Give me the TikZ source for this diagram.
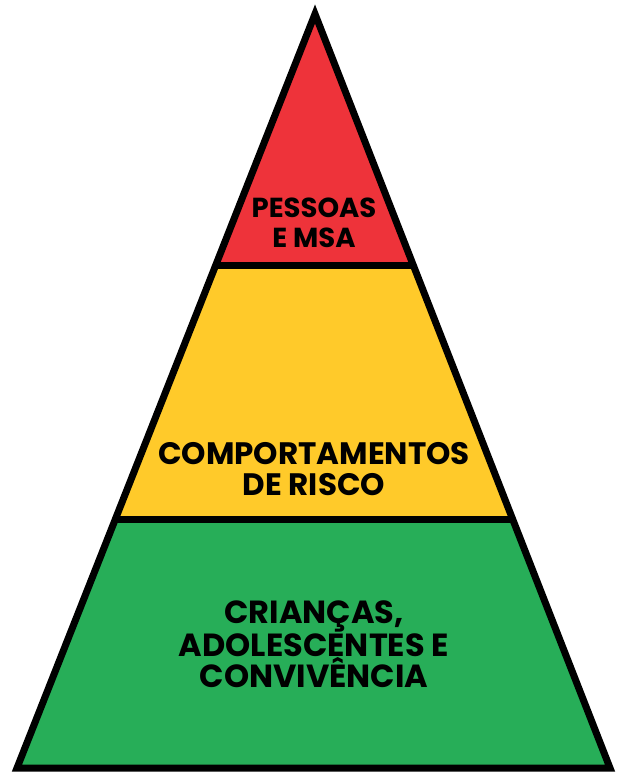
\documentclass[tikz,border=0pt]{standalone}
\usepackage{fontspec}
\setmainfont{Poppins}
\usetikzlibrary{calc}
\definecolor{levelred}{HTML}{EE333A}
\definecolor{levelyellow}{HTML}{FFCA2A}
\definecolor{levelgreen}{HTML}{27AE58}
\tikzset{
	levelborder/.style={line width=7pt, line join=miter, miter limit=20},
	leveltext/.style={align=center, font=\bfseries\fontsize{31}{30.5}\selectfont, text=black}
}

\begin{document}
\begin{tikzpicture}[x=1pt,y=-1pt]
			%%%%% START %%%%%
			\useasboundingbox (0,0) rectangle (617,773);
			
			\coordinate (apex) at (315, 14);
			\coordinate (bl) at (17, 768);
			\coordinate (br) at (610, 768);
			\coordinate (a1) at ($(apex)!0.3337!(bl)$);
			\coordinate (b1) at ($(apex)!0.3337!(br)$);
			\coordinate (a2) at ($(apex)!0.6702!(bl)$);
			\coordinate (b2) at ($(apex)!0.6702!(br)$);
			
			\fill[levelred] (apex) -- (a1) -- (b1) -- cycle;
			\fill[levelyellow] (a1) -- (a2) -- (b2) -- (b1) -- cycle;
			\fill[levelgreen] (a2) -- (bl) -- (br) -- (b2) -- cycle;
			
			\draw[levelborder] (a1) -- (b1);
			\draw[levelborder] (a2) -- (b2);
			\draw[levelborder] (apex) -- (bl) -- (br) -- cycle;
			
			\node[leveltext, font=\bfseries\fontsize{27.5}{29.5}\selectfont] (msa) at (314, 223) {PESSOAS\\E MSA};
			\node[leveltext] (risco) at (314, 469) {COMPORTAMENTOS\\DE RISCO};
			\node[leveltext, font=\bfseries\fontsize{32}{31}\selectfont] (convivencia) at (314, 644) {CRIANÇAS,\\ADOLESCENTES E\\CONVIVÊNCIA};
			
			%%%%% END %%%%%
\end{tikzpicture}
\end{document}
